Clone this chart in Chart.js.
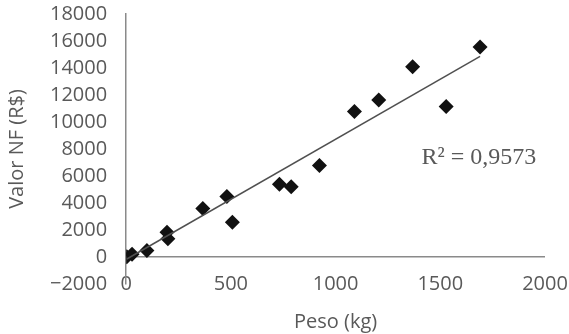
<!DOCTYPE html>
<html>
<head>
<meta charset="utf-8">
<script src="https://cdn.jsdelivr.net/npm/chart.js@4/dist/chart.umd.min.js"></script>
<style>
  html, body { margin: 0; padding: 0; background: #ffffff; }
  #wrap { width: 569px; height: 334px; position: relative; }
</style>
</head>
<body>
<div id="wrap"><canvas id="c" width="569" height="334"></canvas></div>
<script>
// ---- data ----
const pesoKg  = [3, 28, 99, 195, 199, 366, 481, 507, 732, 788, 923, 1090, 1206, 1368, 1528, 1690];
const valorNF = [20, 200, 490, 1840, 1345, 3600, 4480, 2570, 5385, 5195, 6780, 10780, 11630, 14085, 11150, 15555];
const trendX  = [3, 1690];
const trendY  = [-150, 14860];
const xTicks  = [0, 500, 1000, 1500, 2000];
const yTicks  = [-2000, 0, 2000, 4000, 6000, 8000, 10000, 12000, 14000, 16000, 18000];
const xTitle  = "Peso (kg)";
const yTitle  = "Valor NF (R$)";
const r2Label = "R² = 0,9573";
const r2Pos   = [1410, 7350];

const points = pesoKg.map((x, i) => ({ x: x, y: valorNF[i] }));
const trend  = trendX.map((x, i) => ({ x: x, y: trendY[i] }));

const textColor = '#595959';
const axisColor = '#8a8a8a';
const tickFont = { family: "'Open Sans', sans-serif", size: 20 };

const r2Plugin = {
  id: 'r2text',
  afterDatasetsDraw(chart) {
    const { ctx, scales } = chart;
    const px = scales.x.getPixelForValue(r2Pos[0]);
    const py = scales.y.getPixelForValue(r2Pos[1]);
    ctx.save();
    ctx.font = "24px 'Liberation Serif', serif";
    ctx.fillStyle = textColor;
    ctx.textAlign = 'left';
    ctx.textBaseline = 'middle';
    ctx.fillText(r2Label, px, py);
    ctx.restore();
  }
};

new Chart(document.getElementById('c'), {
  type: 'scatter',
  data: {
    datasets: [
      {
        label: 'Valor NF',
        data: points,
        pointStyle: 'rectRot',
        pointRadius: 7.5,
        pointHoverRadius: 7.5,
        backgroundColor: '#111111',
        borderColor: '#111111',
        borderWidth: 0,
        order: 2
      },
      {
        label: 'Linear',
        type: 'line',
        data: trend,
        showLine: true,
        pointRadius: 0,
        borderColor: '#505050',
        borderWidth: 1.5,
        fill: false,
        order: 1
      }
    ]
  },
  options: {
    responsive: false,
    animation: false,
    devicePixelRatio: 1,
    layout: { padding: { left: 1, right: 24, top: -12, bottom: 0 } },
    plugins: {
      legend: { display: false },
      tooltip: { enabled: false }
    },
    scales: {
      x: {
        type: 'linear',
        min: 0,
        max: 2000,
        afterBuildTicks(scale) { scale.ticks = xTicks.map(v => ({ value: v })); },
        grid: { display: false, drawTicks: false },
        border: { display: false },
        ticks: {
          color: textColor, font: tickFont, padding: -12, mirror: true, maxRotation: 0,
          autoSkip: false, callback: (v) => String(v)
        },
        title: {
          display: true, text: xTitle, color: textColor,
          font: { family: "'Open Sans', sans-serif", size: 20 },
          padding: { top: 50, bottom: 0 }
        }
      },
      y: {
        type: 'linear',
        min: -2000,
        max: 18000,
        afterBuildTicks(scale) { scale.ticks = yTicks.map(v => ({ value: v })); },
        grid: {
          drawTicks: true,
          tickLength: 17,
          tickColor: 'rgba(0,0,0,0)',
          color: (c) => (c.tick && c.tick.value === 0 ? axisColor : 'rgba(0,0,0,0)'),
          lineWidth: 1.5
        },
        border: { display: true, color: axisColor, width: 1.5 },
        ticks: {
          color: textColor, font: tickFont, padding: 2, autoSkip: false,
          callback: (v) => (v < 0 ? '\u2212' + Math.abs(v) : String(v))
        },
        title: {
          display: true, text: yTitle, color: textColor,
          font: { family: "'Open Sans', sans-serif", size: 20 },
          padding: { top: 4, bottom: 19 }
        }
      }
    }
  },
  plugins: [r2Plugin]
});
</script>
</body>
</html>
